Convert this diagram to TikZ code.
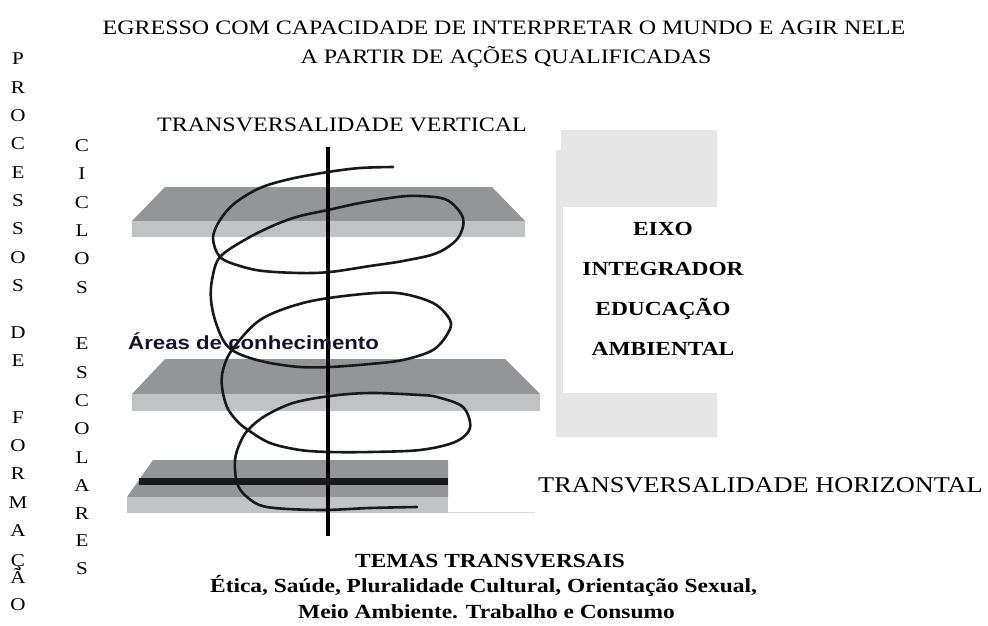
\documentclass[tikz,border=0pt]{standalone}
\usepackage{fontspec}
\setmainfont{Liberation Serif}[FakeStretch=1.17]
\newfontfamily\areasfont{Liberation Sans}[FakeStretch=1.17]

\definecolor{platedark}{RGB}{147,149,152}
\definecolor{platelight}{RGB}{193,194,196}
\definecolor{eixogray}{RGB}{230,230,230}
\definecolor{areasblue}{RGB}{20,20,40}

\tikzset{
  letter/.style={anchor=base, inner sep=0pt, font=\fontsize{18}{18}\selectfont},
  headline/.style={anchor=base, inner sep=0pt, font=\fontsize{20.5}{24}\selectfont},
  eixoline/.style={anchor=base, inner sep=0pt, font=\fontsize{20}{24}\selectfont\bfseries},
  temaline/.style={anchor=base west, inner sep=0pt, font=\fontsize{20}{24}\selectfont\bfseries},
  plate/.style={fill=platedark},
  platefront/.style={fill=platelight},
  coil/.style={line width=2.6pt, black!90, line join=round, line cap=round},
}

\begin{document}
\begin{tikzpicture}[x=1pt,y=-1pt]
\useasboundingbox (0,0) rectangle (988,626);

% titulo
\node[headline] (titulo1) at (504,35) {EGRESSO COM CAPACIDADE DE INTERPRETAR O MUNDO E AGIR NELE};
\node[headline] (titulo2) at (506,63.5) {A PARTIR DE AÇÕES QUALIFICADAS};
\node[headline] (vertical) at (342,131) {TRANSVERSALIDADE VERTICAL};

% colunas de letras
\foreach \ch/\yy [count=\i] in {P/65,R/93.3,O/121.6,C/149.9,E/178.2,S/206.5,S/234.8,O/263.1,S/291.4,
    D/338,E/366,F/423,O/451,R/479,M/508,A/536,Ç/566,Ã/583,O/610}
  \node[letter] (proc\i) at (18,\yy) {\ch};
\foreach \ch/\yy [count=\i] in {C/151,I/179,C/208,L/236,O/264,S/293,
    E/349,S/378,C/406,O/434,L/463,A/491,R/519,E/546,S/574}
  \node[letter] (ciclo\i) at (82,\yy) {\ch};

% planos
\fill[plate] (165,187) -- (492,187) -- (525,221) -- (132,221) -- cycle;
\fill[platefront] (132,221) rectangle (525,237);
\fill[plate] (165,359) -- (505,359) -- (540,394) -- (132,394) -- cycle;
\fill[platefront] (132,394) rectangle (540,411);
\fill[plate] (153,460) -- (448,460) -- (448,497) -- (127,497) -- cycle;
\fill[platefront] (127,497) rectangle (448,513);
\draw[black!15, line width=0.8pt] (448,512.5) -- (535,512.5);

% espiral
\draw[coil] plot[smooth, tension=0.55] coordinates {
  (393,167) (360,168) (328,172) (290,179) (260,188) (235,203) (220,220) (213,238)
  (220,257) (240,266) (263,271) (300,273) (330,272) (370,266) (403,261) (437,253)
  (458,238) (463,218) (447,200) (420,196) (397,197) (360,203) (328,210) (300,216)
  (277,224) (248,238) (220,257) (212,280) (211,300) (215,320) (223,340) (232,350)
  (247,357) (270,363) (300,367) (330,367) (370,364) (403,360) (433,350) (448,333)
  (450,320) (433,303) (397,293) (353,295) (303,303) (260,320) (232,350) (223,370)
  (222,387) (227,407) (237,421) (248,430) (270,443) (300,450) (330,452) (370,452)
  (420,450) (455,442) (470,428) (463,407) (437,397) (420,395) (370,393) (330,396)
  (293,403) (265,416) (248,430) (240,443) (235,460) (237,483) (247,497) (267,507)
  (320,510) (370,508) (417,507)};

% eixo vertical e barra horizontal
\draw[line width=4pt] (328,147) -- (328,536);
\fill[black!90] (139,478) rectangle (448,485);

\node[anchor=base west, inner sep=0pt, text=areasblue, font=\areasfont\bfseries\fontsize{19}{22}\selectfont]
  (areas) at (128,349) {Áreas de conhecimento};

% eixo integrador
\fill[eixogray] (561,130) -- (717,130) -- (717,437) -- (556,437) -- (556,150) -- (561,150) -- cycle;
\fill[white] (563,207) rectangle (720,393);
\node[eixoline] (eixo) at (663,235) {EIXO};
\node[eixoline] (integrador) at (663,275) {INTEGRADOR};
\node[eixoline] (educacao) at (663,315) {EDUCAÇÃO};
\node[eixoline] (ambiental) at (663,355) {AMBIENTAL};

\node[anchor=base west, inner sep=0pt, font=\fontsize{22.5}{26}\selectfont]
  (horizontal) at (538,492) {TRANSVERSALIDADE HORIZONTAL};

% temas transversais
\node[temaline] (temas) at (355,567) {TEMAS TRANSVERSAIS};
\node[temaline] (temas2) at (210,592) {Ética, Saúde, Pluralidade Cultural, Orientação Sexual,};
\node[temaline] (temas3) at (298,618) {Meio Ambiente. Trabalho e Consumo};
\end{tikzpicture}
\end{document}
